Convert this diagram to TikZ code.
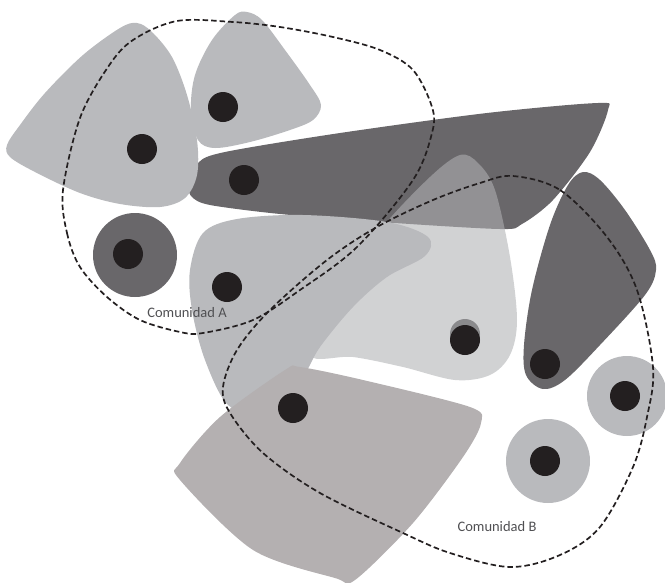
\documentclass[tikz,border=0pt]{standalone}
\usepackage{fontspec}
\setmainfont{Carlito}
\definecolor{lightg}{RGB}{185,186,189}
\definecolor{darkg}{RGB}{105,103,106}
\definecolor{dotc}{RGB}{35,31,32}
\definecolor{bottomg}{RGB}{180,176,177}
\definecolor{paleg}{RGB}{176,177,180}
\definecolor{shadowg}{RGB}{138,138,140}
\definecolor{labelg}{RGB}{80,80,83}
\tikzset{
  vertex/.style={circle, fill=dotc, draw=none, minimum size=30pt, inner sep=0pt},
  community/.style={draw=dotc, line width=1.7pt, dash pattern=on 5.5pt off 3pt},
  clabel/.style={text=labelg, font=\fontsize{14.5}{16}\selectfont, inner sep=0pt}
}
\begin{document}
\begin{tikzpicture}[x=1pt,y=-1pt]
\useasboundingbox (0,0) rectangle (665,582);
% dark elongated shape
\fill[darkg] plot[smooth cycle, tension=0.5] coordinates {(189,186) (198,163) (225,152) (340,133) (487,113) (598,103) (608,110) (590,152) (553,200) (522,224) (500,229) (380,222) (280,214) (210,205) (192,197)};
% pale translucent shape
\fill[paleg, opacity=0.58] plot[smooth cycle, tension=0.55] coordinates {(460,155) (478,163) (495,190) (510,257) (517,320) (510,355) (490,375) (455,380) (403,367) (353,357) (310,355) (330,300) (380,230) (430,177)};
% middle light shape
\fill[lightg] plot[smooth cycle, tension=0.55] coordinates {(190,270) (203,233) (237,219) (303,215) (387,222) (428,237) (425,256) (387,277) (353,307) (320,347) (300,380) (260,410) (228,405) (205,360) (192,310)};
% bottom shape
\fill[bottomg] plot[smooth cycle, tension=0.5] coordinates {(300,367) (363,380) (470,407) (481,423) (463,457) (413,523) (355,580) (335,578) (253,550) (180,480) (180,463) (220,417) (285,370)};
% top-left triangles
\fill[lightg] plot[smooth cycle, tension=0.55] coordinates {(7,145) (20,125) (45,93) (83,55) (120,28) (137,23) (152,32) (172,57) (187,95) (197,140) (197,175) (185,198) (160,207) (120,204) (80,193) (35,172) (10,157)};
\fill[lightg] plot[smooth cycle, tension=0.55] coordinates {(247,12) (262,20) (285,50) (310,85) (321,105) (313,120) (290,130) (250,142) (215,148) (198,140) (191,110) (195,75) (212,40) (235,15)};
% right dark teardrop
\fill[darkg] plot[smooth cycle, tension=0.55] coordinates {(583,172) (600,180) (625,210) (650,250) (656,270) (645,295) (600,345) (565,380) (543,389) (526,375) (524,345) (532,290) (550,225) (568,185)};
% circles
\fill[darkg] (135,255) circle[radius=42pt];
\fill[lightg] (627,396) circle[radius=40pt];
\fill[lightg] (548,461) circle[radius=42pt];
% shadow dot
\fill[shadowg] (465,334) circle[radius=15pt];
% vertices
\node[vertex] (v1) at (142,149) {};
\node[vertex] (v2) at (223,107) {};
\node[vertex] (v3) at (244,180) {};
\node[vertex] (v4) at (128,254) {};
\node[vertex] (v5) at (227,287) {};
\node[vertex] (v6) at (465,340) {};
\node[vertex] (v7) at (545,364) {};
\node[vertex] (v8) at (625,396) {};
\node[vertex] (v9) at (545,461) {};
\node[vertex] (v10) at (293,408) {};
% communities
\draw[community] plot[smooth cycle, tension=0.55] coordinates {(63,190) (67,233) (80,267) (107,297) (140,320) (180,332) (203,333) (253,320) (300,290) (357,247) (413,180) (432,133) (432,107) (413,70) (380,50) (333,37) (280,27) (233,22) (177,21) (133,40) (108,67) (80,118)};
\draw[community] plot[smooth cycle, tension=0.55] coordinates {(513,176) (560,190) (607,237) (637,290) (653,367) (647,417) (633,467) (600,527) (560,555) (510,567) (450,553) (403,533) (320,493) (263,453) (230,413) (223,387) (237,350) (270,310) (327,260) (377,227) (433,200) (480,183)};
\node[clabel] (la) at (187,313) {Comunidad A};
\node[clabel] (lb) at (497,527) {Comunidad B};
\end{tikzpicture}
\end{document}
